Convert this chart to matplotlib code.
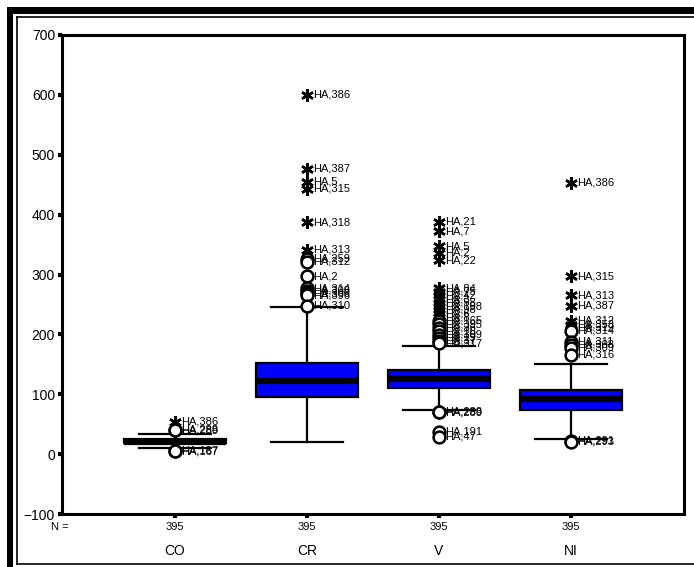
import matplotlib
matplotlib.use("Agg")
import matplotlib.pyplot as plt
from matplotlib.patches import Rectangle
from matplotlib.lines import Line2D

plt.rcParams['font.family'] = ['Liberation Sans', 'DejaVu Sans']

# ---- summary statistics per element ----
categories = ["CO", "CR", "V", "NI"]
n_cases = [395, 395, 395, 395]
q1 = [18, 95, 110, 73]
medians = [21, 122, 125, 92]
q3 = [25, 153, 140, 107]
whisker_lo = [10, 20, 73, 25]
whisker_hi = [34, 245, 180, 150]

# ---- outliers: group index, value, case label, extreme (star) ----
out_group = [0, 0, 0, 0, 0,
             1, 1, 1, 1, 1, 1, 1, 1, 1, 1, 1, 1, 1, 1,
             2, 2, 2, 2, 2, 2, 2, 2, 2, 2, 2, 2, 2, 2,
             2, 2, 2, 2, 2, 2, 2, 2, 2, 2, 2, 2,
             3, 3, 3, 3, 3, 3, 3, 3, 3, 3, 3, 3, 3, 3]
out_value = [54, 41, 40, 6, 5,
             600, 477, 455, 443, 387, 341, 326, 321, 297, 277, 273, 269, 265, 248,
             388, 372, 347, 336, 324, 277, 271, 265, 259, 253, 247, 241, 235, 229,
             223, 217, 211, 205, 199, 194, 189, 185, 71, 70, 37, 29,
             453, 297, 265, 248, 223, 216, 211, 206, 188, 183, 178, 166, 22, 21]
out_case = ["HA,386", "HA,288", "HA,289", "HA,187", "HA,167",
            "HA,386", "HA,387", "HA,5", "HA,315", "HA,318", "HA,313", "HA,259",
            "HA,312", "HA,2", "HA,314", "HA,308", "HA,306", "HA,396", "HA,310",
            "HA,21", "HA,7", "HA,5", "HA,2", "HA,22", "HA,84", "HA,75", "HA,42",
            "HA,3", "HA,58", "HA,198", "HA,98", "HA,6", "HA,8",
            "HA,165", "HA,395", "HA,36", "HA,16", "HA,309", "HA,19", "HA,37",
            "HA,317", "HA,288", "HA,289", "HA,191", "HA,47",
            "HA,386", "HA,315", "HA,313", "HA,387", "HA,312", "HA,353", "HA,319",
            "HA,314", "HA,311", "HA,308", "HA,309", "HA,316", "HA,291", "HA,293"]
out_extreme = [True, False, False, False, False,
               True, True, True, True, True, True, False, False, False, False,
               False, False, False, False,
               True, True, True, True, True, True, True, True, True, True, True,
               True, True, True,
               False, False, False, False, False, False, False, False, False,
               False, False, False,
               True, True, True, True, True, True, True, False, False, False,
               False, False, False, False]

positions = [1, 2, 3, 4]

fig = plt.figure(figsize=(6.94, 5.67), dpi=100)
ax = fig.add_axes([62 / 694, 1 - 514 / 567, 622 / 694, 479 / 567])

stats = []
for i, name in enumerate(categories):
    stats.append(dict(med=medians[i], q1=q1[i], q3=q3[i],
                      whislo=whisker_lo[i], whishi=whisker_hi[i],
                      fliers=[], label=name))

ax.bxp(stats, positions=positions, widths=0.77, capwidths=0.55,
       patch_artist=True, showfliers=False,
       boxprops=dict(facecolor="#0000ff", edgecolor="black", linewidth=1.6),
       medianprops=dict(color="black", linewidth=4.5, solid_capstyle="butt"),
       whiskerprops=dict(color="black", linewidth=1.6),
       capprops=dict(color="black", linewidth=1.6))

# outlier markers and case labels
for g, v, case, ext in zip(out_group, out_value, out_case, out_extreme):
    x = positions[g]
    if ext:
        ax.plot(x, v, marker=(6, 2, 0), ms=9, mew=1.8, color="black",
                linestyle="none", zorder=4)
    else:
        ax.plot(x, v, marker="o", ms=8.5, mew=1.8, mfc="white", mec="black",
                linestyle="none", zorder=4)
    ax.text(x + 0.045, v, case, fontsize=8, va="center", ha="left", zorder=5)

ax.set_xlim(1 - 113 / 132, 4 + 113 / 132)
ax.set_ylim(-100, 700)
ax.set_yticks(range(-100, 701, 100))
ax.set_xticks(positions)
ax.set_xticklabels([])
ax.tick_params(axis="both", direction="out", length=3, width=3, color="black")
ax.tick_params(axis="y", labelsize=10, pad=2)
for sp in ax.spines.values():
    sp.set_linewidth(2.2)

# case counts and group names under the axis
xt = ax.get_xaxis_transform()
ax.text(0.13, -0.027, "N =", transform=xt, fontsize=8, ha="center", va="center")
for x, n, name in zip(positions, n_cases, categories):
    ax.text(x, -0.027, str(n), transform=xt, fontsize=8, ha="center", va="center")
    ax.text(x, -0.077, name, transform=xt, fontsize=10, ha="center", va="center")

# window frame around the chart
W, H = 694, 567
fig.add_artist(Rectangle((7 / W, 1 - 14 / H), 1, 7 / H, transform=fig.transFigure,
                         facecolor="black", edgecolor="none"))
fig.add_artist(Rectangle((7 / W, 0), 6 / W, 1 - 7 / H, transform=fig.transFigure,
                         facecolor="black", edgecolor="none"))
fig.add_artist(Line2D([16.5 / W, 1], [1 - 16.5 / H, 1 - 16.5 / H], color="black", lw=1.2))
fig.add_artist(Line2D([16.5 / W, 16.5 / W], [1 - 16.5 / H, 1 - 564 / H], color="black", lw=1.2))
fig.add_artist(Line2D([16.5 / W, 1], [1 - 564 / H, 1 - 564 / H], color="black", lw=1.2))

fig.savefig("out.png", dpi=100)
